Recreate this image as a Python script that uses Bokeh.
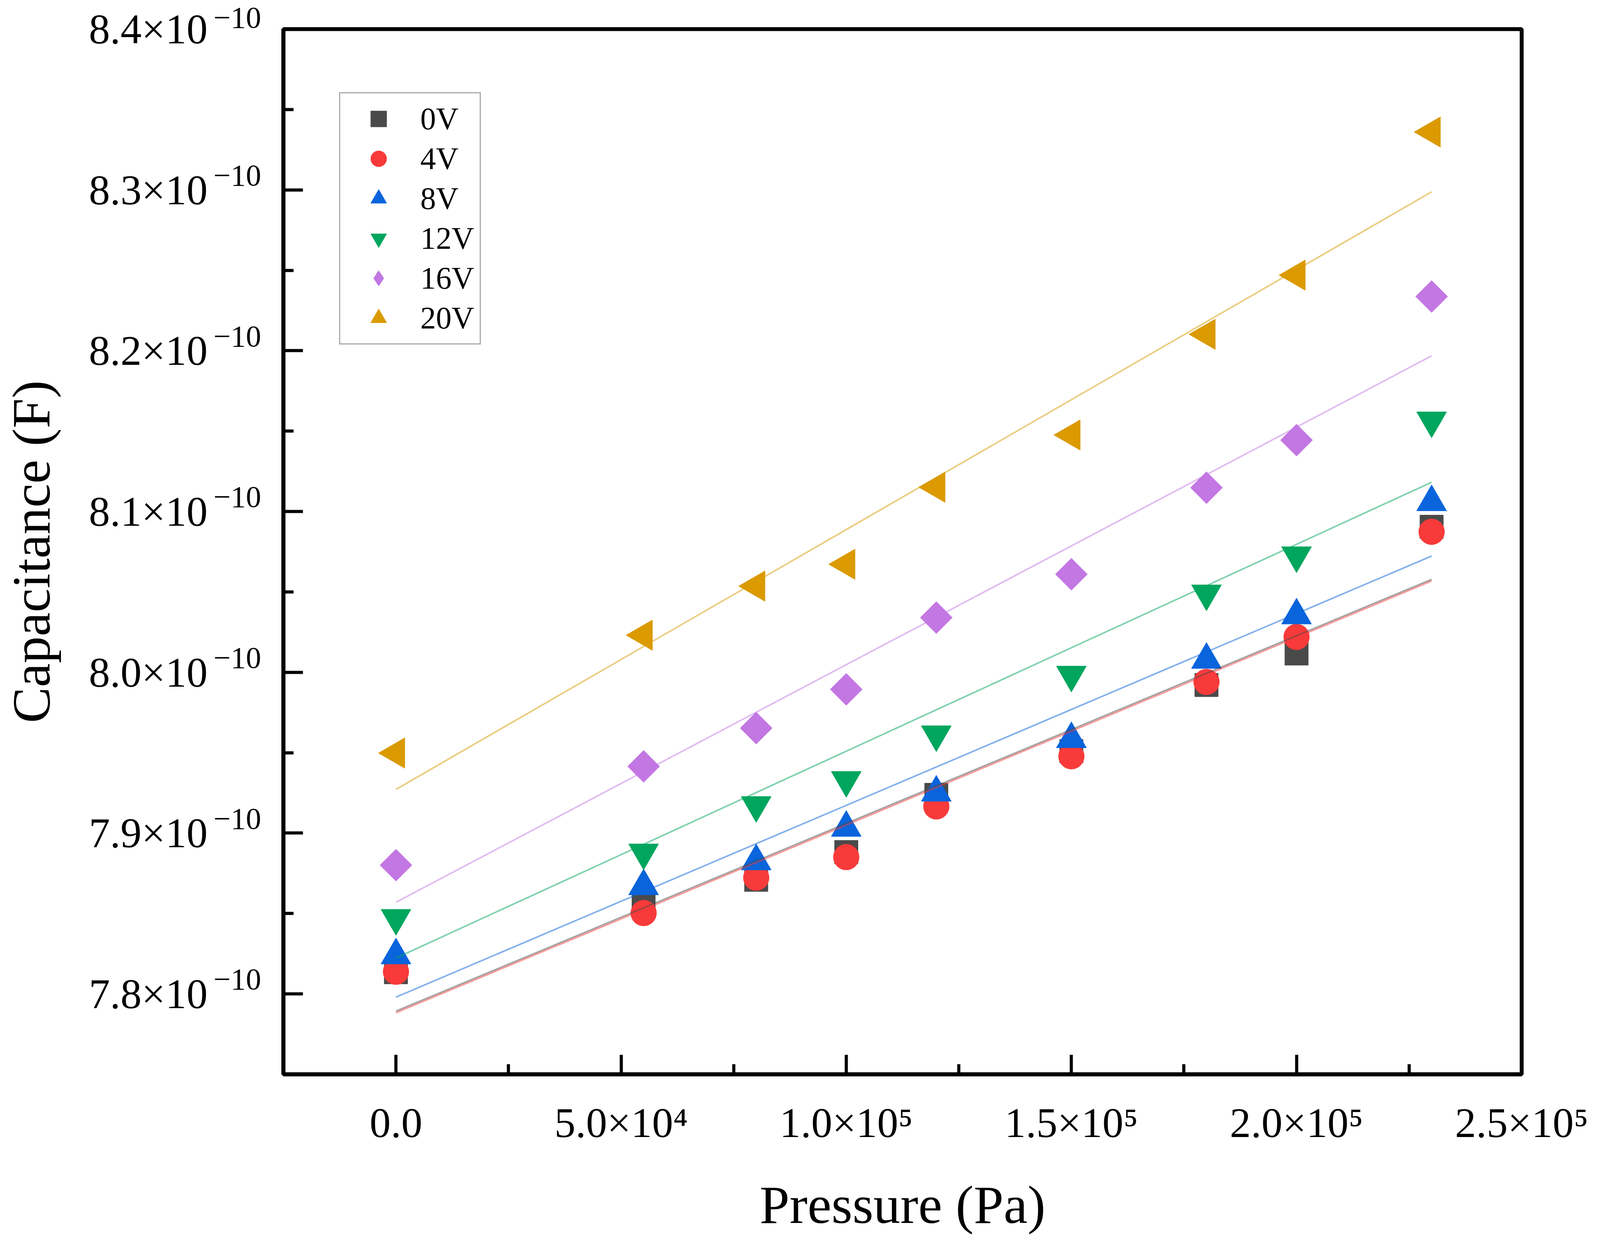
from bokeh.plotting import figure
from bokeh.models import Range1d, FixedTicker, Legend, LegendItem, LinearAxis
from bokeh.embed import file_html
from bokeh.resources import INLINE
import math

# ---------------- data (capacitance in units of 1e-10 F) ----------------
pressure = [0, 55000, 80000, 100000, 120000, 150000, 180000, 200000, 230000]

series_names = ["0V", "4V", "8V", "12V", "16V", "20V"]

cap_0V = [7.8135, 7.8549, 7.8710, 7.8882, 7.9238, 7.9510, 7.9921, 8.0117, 8.0905]
cap_4V = [7.8138, 7.8503, 7.8723, 7.8851, 7.9166, 7.9478, 7.9940, 8.0220, 8.0874]
cap_8V = [7.8240, 7.8670, 7.8825, 7.9033, 7.9252, 7.9585, 8.0078, 8.0354, 8.1058]
cap_12V = [7.8472, 7.8879, 7.9174, 7.9330, 7.9614, 7.9985, 8.0490, 8.0727, 8.1566]
cap_16V = [7.8801, 7.9415, 7.9653, 7.9894, 8.0340, 8.0610, 8.1148, 8.1444, 8.2337]
cap_20V = [7.9498, 8.0231, 8.0536, 8.0672, 8.1151, 8.1476, 8.2102, 8.2470, 8.3360]

# linear-fit lines (value at start and end pressure)
fit_x = [0, 230000]
fit_0V = [7.7893, 8.0578]
fit_4V = [7.7883, 8.0568]
fit_8V = [7.7980, 8.0723]
fit_12V = [7.8223, 8.1182]
fit_16V = [7.8570, 8.1968]
fit_20V = [7.9272, 8.2988]

x_min, x_max = -25000, 250000
y_min, y_max = 7.75, 8.4

x_ticks = [0, 50000, 100000, 150000, 200000, 250000]
x_tick_labels = ["0.0", "5.0×10⁴", "1.0×10⁵", "1.5×10⁵", "2.0×10⁵", "2.5×10⁵"]
x_minor_ticks = [25000, 75000, 125000, 175000, 225000]

y_ticks = [7.8, 7.9, 8.0, 8.1, 8.2, 8.3, 8.4]
y_tick_mant = ["7.8×10", "7.9×10", "8.0×10", "8.1×10", "8.2×10", "8.3×10", "8.4×10"]
y_tick_exp = ["−10"] * 7
y_minor_ticks = [7.75, 7.85, 7.95, 8.05, 8.15, 8.25, 8.35]

# ---------------- styles ----------------
colors = ["#4a4a4a", "#f83a3a", "#0a64dc", "#00a65e", "#c277e3", "#da9a00"]
markers = ["square", "circle", "triangle", "inverted_triangle", "square", "triangle"]
legend_markers = ["square", "circle", "triangle", "inverted_triangle", "diamond", "triangle"]
sizes = [60, 66, 77, 77, 58, 78]
angles = [0, 0, 0, 0, math.pi / 4, math.pi / 2]

caps = [cap_0V, cap_4V, cap_8V, cap_12V, cap_16V, cap_20V]
fits = [fit_0V, fit_4V, fit_8V, fit_12V, fit_16V, fit_20V]

FONT = "Liberation Serif"

p = figure(width=4080, height=3170, output_backend="svg", toolbar_location=None,
           x_range=Range1d(x_min, x_max), y_range=Range1d(y_min, y_max),
           min_border_left=720, min_border_right=185, min_border_top=74,
           min_border_bottom=420)
p.background_fill_color = "white"
p.border_fill_color = "white"
p.grid.visible = False
p.outline_line_color = "black"
p.outline_line_width = 10
p.outline_line_alpha = 1.0

# legend proxies for shapes that are rotated in the plot; they sit hidden
# beneath the identically coloured plotted markers
proxies = {}
for i, (c, col, mk, lmk) in enumerate(zip(caps, colors, markers, legend_markers)):
    if lmk != mk:
        proxies[i] = p.scatter(pressure, c, marker=lmk, size=54,
                               fill_color=col, line_color=col, line_width=0)

renderers = []
for name, c, col, mk, sz, ang in zip(series_names, caps, colors, markers, sizes, angles):
    r = p.scatter(pressure, c, marker=mk, size=sz, angle=ang,
                  fill_color=col, line_color=col, line_width=1)
    renderers.append(r)

for f, col in zip(fits, colors):
    p.line(fit_x, f, line_color=col, line_width=4, line_alpha=0.5)

legend_renderers = [proxies.get(i, r) for i, r in enumerate(renderers)]


def style_ticks(ax):
    ax.axis_line_width = 10
    ax.axis_line_color = "black"
    ax.major_tick_line_width = 8
    ax.minor_tick_line_width = 8
    ax.major_tick_in = 50
    ax.major_tick_out = 0
    ax.minor_tick_in = 26
    ax.minor_tick_out = 0


# ---- x axis ----
xa = p.xaxis[0]
style_ticks(xa)
xa.ticker = FixedTicker(ticks=x_ticks, minor_ticks=x_minor_ticks)
xa.major_label_overrides = dict(zip(x_ticks, x_tick_labels))
xa.major_label_text_font = FONT
xa.major_label_text_font_size = "108px"
xa.major_label_text_color = "black"
xa.major_label_standoff = 64
xa.axis_label = "Pressure (Pa)"
xa.axis_label_text_font = FONT
xa.axis_label_text_font_size = "138px"
xa.axis_label_text_font_style = "normal"
xa.axis_label_text_color = "black"
xa.axis_label_standoff = 71

# ---- y axis: inner axis carries ticks and the raised exponent ----
ya = p.yaxis[0]
style_ticks(ya)
ya.ticker = FixedTicker(ticks=y_ticks, minor_ticks=y_minor_ticks)
ya.major_label_overrides = {t: e + "\n\u00a0" for t, e in zip(y_ticks, y_tick_exp)}
ya.major_label_text_font = FONT
ya.major_label_text_font_size = "78px"
ya.major_label_text_line_height = 0.87
ya.major_label_text_color = "black"
ya.major_label_standoff = 57

# ---- y axis: outer axis carries the mantissa and the title ----
ym = LinearAxis(ticker=FixedTicker(ticks=y_ticks))
ym.major_label_overrides = dict(zip(y_ticks, y_tick_mant))
ym.axis_line_color = None
ym.major_tick_line_color = None
ym.minor_tick_line_color = None
ym.major_tick_out = 0
ym.major_tick_in = 0
ym.major_label_text_font = FONT
ym.major_label_text_font_size = "108px"
ym.major_label_text_color = "black"
ym.major_label_standoff = 12
ym.axis_label = "Capacitance (F)"
ym.axis_label_text_font = FONT
ym.axis_label_text_font_size = "138px"
ym.axis_label_text_font_style = "normal"
ym.axis_label_text_color = "black"
ym.axis_label_standoff = 68
p.add_layout(ym, "left")

# ---- legend ----
legend = Legend(items=[LegendItem(label=n, renderers=[r])
                       for n, r in zip(series_names, legend_renderers)],
                location=(143, 1868))
legend.label_text_font = FONT
legend.label_text_font_size = "80px"
legend.label_text_color = "black"
legend.padding = 14
legend.margin = 0
legend.glyph_height = 102
legend.label_height = 102
legend.spacing = 0
legend.glyph_width = 168
legend.label_width = 131
legend.label_standoff = 23
legend.border_line_color = "#555555"
legend.border_line_width = 3
legend.background_fill_color = "white"
legend.background_fill_alpha = 1.0
p.add_layout(legend)

open("out.html", "w").write(file_html(p, INLINE))
